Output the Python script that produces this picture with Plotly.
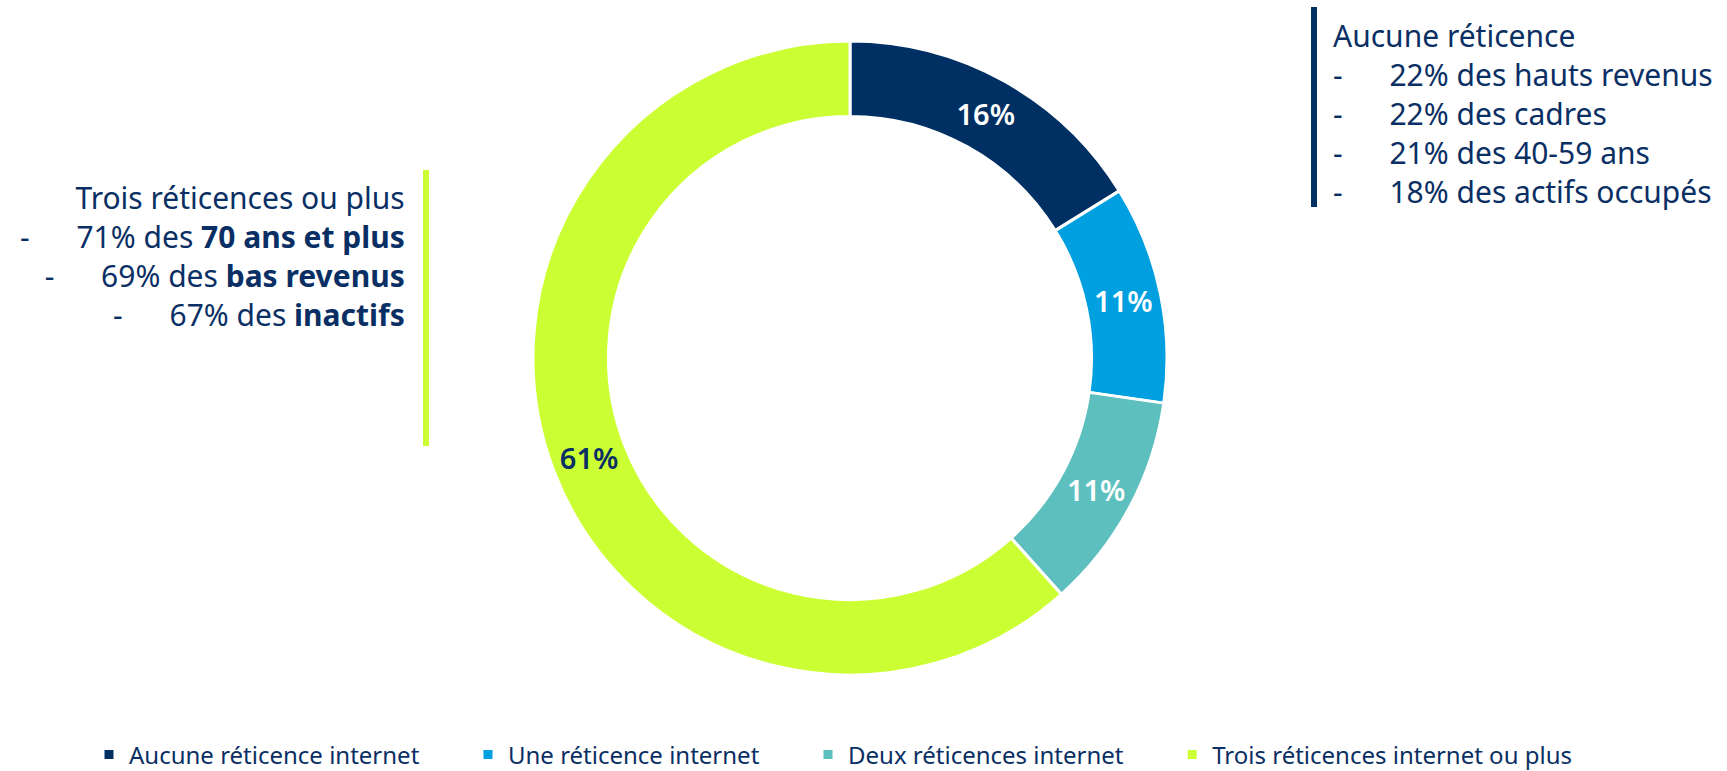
import plotly.graph_objects as go

W, H = 1727, 771

# data
categories = [
    "Aucune réticence internet",
    "Une réticence internet",
    "Deux réticences internet",
    "Trois réticences internet ou plus",
]
shares = [16, 11, 11, 61]
colors = ["#003063", "#009fe0", "#5ebfbf", "#ccff33"]
label_colors = ["#ffffff", "#ffffff", "#ffffff", "#0a2f64"]

left_title = "Trois réticences ou plus"
left_items = ["71% des <b>70 ans et plus</b>", "69% des <b>bas revenus</b>", "67% des <b>inactifs</b>"]
right_title = "Aucune réticence"
right_items = ["22% des hauts revenus", "22% des cadres", "21% des 40-59 ans", "18% des actifs occupés"]

NAVY = "#0a2f64"
FONT = "Noto Sans"
TAB = "\u00a0" * 6
PAD = "\u00a0" * 7

CX, CY, R = 850, 358, 317


def px(x):
    return x / W


def py(y):
    return 1 - y / H


fig = go.Figure()

fig.add_trace(
    go.Pie(
        labels=[c + PAD for c in categories],
        values=shares,
        hole=0.762,
        sort=False,
        direction="clockwise",
        rotation=0,
        marker=dict(colors=colors, line=dict(color="white", width=3)),
        textinfo="none",
        texttemplate="%{value}%",
        textposition="inside",
        insidetextorientation="horizontal",
        textfont=dict(family=FONT, size=29, color=label_colors, weight=600),
        domain=dict(x=[px(CX - R), px(CX + R)], y=[py(CY + R), py(CY - R)]),
        showlegend=True,
    )
)

left_text = "<br>".join([left_title] + ["-" + TAB + t for t in left_items])
right_text = "<br>".join([right_title] + ["-" + TAB + t for t in right_items])

fig.add_annotation(
    x=px(407), y=py(256), xref="paper", yref="paper",
    xanchor="right", yanchor="middle", align="right",
    text=left_text, showarrow=False,
    font=dict(family=FONT, size=30, color=NAVY),
)
fig.add_annotation(
    x=px(1331), y=py(113), xref="paper", yref="paper",
    xanchor="left", yanchor="middle", align="left",
    text=right_text, showarrow=False,
    font=dict(family=FONT, size=30, color=NAVY),
)

fig.add_shape(type="line", xref="paper", yref="paper",
              x0=px(426), x1=px(426), y0=py(170), y1=py(446),
              line=dict(color="#ccff33", width=6))
fig.add_shape(type="line", xref="paper", yref="paper",
              x0=px(1314), x1=px(1314), y0=py(7), y1=py(207),
              line=dict(color="#003063", width=6))

fig.update_layout(
    width=W, height=H,
    margin=dict(l=0, r=0, t=0, b=0, autoexpand=False),
    paper_bgcolor="white",
    plot_bgcolor="white",
    font=dict(family=FONT, color=NAVY),
    legend=dict(
        orientation="h",
        x=px(89), y=py(755), xanchor="left", yanchor="middle",
        font=dict(family=FONT, size=24, color=NAVY),
        itemwidth=30,
        traceorder="normal",
    ),
)

fig.write_html(
    "out.html",
    config={"displayModeBar": False},
    post_script="document.body.style.margin='0';",
)
